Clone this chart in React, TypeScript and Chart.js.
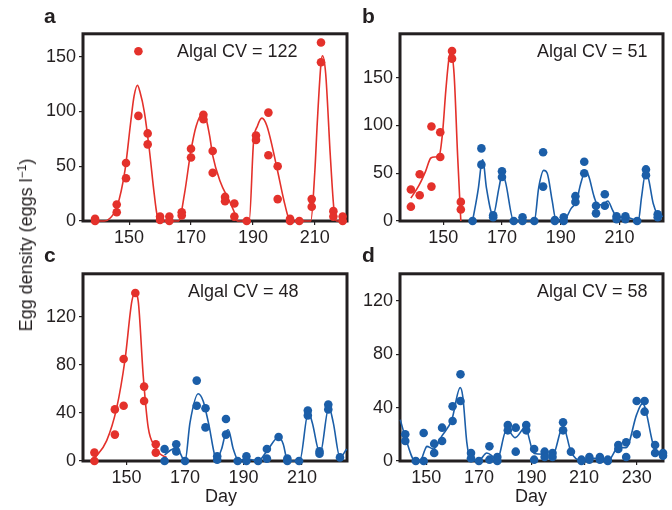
import React, { useEffect, useRef } from 'react';
import { Chart, registerables } from 'chart.js';

Chart.register(...registerables);

const FONT = '"Liberation Sans", Arial, Helvetica, sans-serif';
const INK = '#231f20';
const RED = '#e4312b';
const BLUE = '#1b5ea8';

// ---- Panel a (red clone only) ----
const aDays = [139, 146, 149, 153, 156, 160, 163, 167, 170, 174, 177, 181, 184, 188, 191, 195, 198, 202, 205, 209, 212, 216, 219];
const aRep1 = [2, 15, 53, 155, 80, 4, 4, 8, 66, 97, 64, 22, 16, 0, 78, 99, 50, 2, 0, 20, 163, 9, 4];
const aRep2 = [0, 8, 39, 96, 70, 1, 0, 5, 58, 93, 44, 18, 4, null, 74, 60, 20, 0, null, 13, 145, 4, 0];
const aFitDays = [139, 142, 144, 146, 148.7, 150.5, 151.6, 152.7, 153.5, 154.9, 156.5, 158.1, 159, 160, 166, 167.9, 169.9, 171.7, 173.5, 174.5, 176, 177, 179.3, 182.6, 184, 185, 188.8, 190.2, 191.5, 192.9, 194.5, 197.8, 200, 201.6, 202.5, 208.7, 210, 210.8, 212, 212.5, 213.5, 215, 216.2, 217, 220.4];
const aFitEggs = [0, 0, 3, 12, 47, 90, 114, 124, 118, 100, 66, 25, 6, 0, 0, 25, 63, 87, 97, 96, 78, 60, 37, 17, 8, 0, 0, 72, 87, 94, 87, 48, 19, 2, 0, 0, 45, 90, 144, 151, 135, 60, 10, 0, 0];

// ---- Panel b ----
const bRedDays = [139, 142, 146, 149, 153, 156];
const bRedRep1 = [33, 49, 99, 93, 178, 20];
const bRedRep2 = [15, 27, 36, 67, 170, 12];
const bRedFitDays = [139, 141.7, 144, 145.8, 147.2, 148.7, 149.8, 150.9, 152, 152.6, 153.7, 154.9, 156];
const bRedFitEggs = [24, 37, 52, 66, 67, 69, 93, 137, 171, 176, 154, 69, 0];
const bBlueDays = [160, 163, 167, 170, 174, 177, 181, 184, 188, 191, 195, 198, 202, 205, 209, 212, 216, 219, 223];
const bBlueRep1 = [0, 76, 6, 52, 0, 4, 0, 72, 1, 4, 26, 62, 16, 28, 5, 5, 0, 54, 7];
const bBlueRep2 = [null, 59, 4, 46, null, 0, null, 36, 0, 0, 20, 50, 8, 16, 2, 2, null, 48, 4];
const bBlueFitDays = [160, 162, 163, 163.5, 164.7, 167, 169, 170, 171.1, 174, 181, 182.5, 184.2, 185.4, 187.1, 188.3, 191.1, 193.5, 195.4, 196.7, 198.3, 199.4, 201.4, 202.6, 204.3, 206, 207.7, 209.3, 212.4, 216.4, 217.5, 218.8, 219.8, 221.5, 223.7, 224.8];
const bBlueFitEggs = [0, 35, 60, 64, 35, 6, 35, 48, 42, 0, 0, 35, 53, 50, 21, 2, 1, 13, 21, 38, 51, 48, 25, 17, 17, 21, 11, 4, 4, 0, 25, 49, 45, 18, 5, 5];

// ---- Panel c ----
const cRedDays = [139, 146, 149, 153, 156, 160];
const cRedRep1 = [7, 43, 85, 140, 62, 14];
const cRedRep2 = [0, 22, 46, null, 50, 7];
const cRedFitDays = [139, 143.2, 146.6, 149.5, 151.8, 152.9, 154, 155.7, 157.4, 159.7, 161.4, 163.7];
const cRedFitEggs = [2, 17, 44, 85, 133, 140, 133, 71, 28, 12, 6, 3];
const cBlueDays = [163, 167, 170, 174, 177, 181, 184, 188, 191, 195, 198, 202, 205, 209, 212, 216, 219, 223];
const cBlueRep1 = [10, 14, 0, 67, 44, 4, 35, 0, 4, 0, 10, 20, 2, 0, 42, 8, 47, 3];
const cBlueRep2 = [0, 8, null, 46, 28, 1, 22, null, 0, null, 2, null, 0, null, 38, 6, 43, null];
const cBlueFitDays = [163, 165, 167.1, 170, 171.7, 174.5, 176.2, 178, 180.8, 182.5, 183.9, 184.8, 186.5, 188.4, 190.7, 192.8, 195, 197.9, 202.1, 203.6, 205.1, 209.2, 212.2, 213.5, 216.2, 219.2, 220.7, 223, 225.3];
const cBlueFitEggs = [5, 9, 11, 0, 32, 56, 50, 32, 2, 10, 23.5, 26, 10, 0, 2, 1, 0, 8, 20, 14, 0, 0, 41, 32, 6, 45, 32, 3, 10];

// ---- Panel d (blue clone only) ----
const dDays = [142, 146, 149, 153, 156, 160, 163, 167, 170, 174, 177, 181, 184, 188, 191, 195, 198, 202, 205, 209, 212, 216, 219, 223, 226, 230, 233, 237, 240];
const dRep1 = [20, 0, 21, 13, 25, 41, 65, 6, 0, 11, 3, 27, 25, 27, 9, 7, 6, 29, 7, 1, 3, 3, 1, 12, 14, 45, 45, 12, 6];
const dRep2 = [15, null, 0, 6, 15, 30, 45, 2, null, 1, 0, 23, 7, 23, 1, 3, 3, 23, null, 0, 1, 1, 0, 9, 3, 20, 37, 6, 4];
const dFitDays = [140.1, 142, 145.8, 147.6, 149.6, 150.2, 152.7, 156, 159.7, 162.9, 163.9, 165.4, 166.7, 169.8, 173, 174.9, 176.8, 180.6, 183.8, 187.6, 191, 195, 198, 202, 205, 209, 212, 216, 219, 223, 226, 230, 232.2, 233, 237, 240];
const dFitEggs = [31, 18, 0, 0, 9, 11, 9, 19, 31, 55, 48, 14, 2, 0, 6, 4, 0, 24, 17.5, 25, 5.6, 5, 4, 26, 7, 0, 2, 2, 0, 10, 10, 35, 43, 41, 8, 5];

// Axis ticks
const ticksX = [150, 170, 190, 210];
const ticksXd = [150, 170, 190, 210, 230];
const ticksYab = [0, 50, 100, 150];
const ticksYcd = [0, 40, 80, 120];

type XY = { x: number; y: number };

function samples(days: number[], rep1: (number | null)[], rep2: (number | null)[]): XY[] {
  const out: XY[] = [];
  days.forEach((d, i) => {
    if (rep1[i] != null) out.push({ x: d, y: rep1[i] as number });
    if (rep2[i] != null) out.push({ x: d, y: rep2[i] as number });
  });
  return out;
}

function curve(days: number[], eggs: number[]): XY[] {
  return days.map((d, i) => ({ x: d, y: eggs[i] }));
}

function pointSet(data: XY[], color: string) {
  return {
    data,
    showLine: false,
    pointRadius: 4.3,
    pointBackgroundColor: color,
    pointBorderWidth: 0,
    borderColor: color,
    clip: false as any,
    order: 0,
  };
}

function fitSet(data: XY[], color: string) {
  return {
    data,
    showLine: true,
    borderColor: color,
    borderWidth: 1.6,
    pointRadius: 0,
    cubicInterpolationMode: 'monotone' as const,
    clip: false as any,
    order: 1,
  };
}

// Thick box around each plotting area, drawn beneath the data marks
const frameBox = {
  id: 'frameBox',
  beforeDatasetsDraw(chart: any) {
    const { ctx, chartArea } = chart;
    ctx.save();
    ctx.strokeStyle = INK;
    ctx.lineWidth = 3;
    ctx.strokeRect(chartArea.left, chartArea.top, chartArea.right - chartArea.left, chartArea.bottom - chartArea.top);
    ctx.restore();
  },
};

type Box = { left: number; top: number; width: number; height: number };
type Area = { left: number; top: number; right: number; bottom: number };

type PanelProps = {
  box: Box;
  area: Area;
  xMin: number;
  xMax: number;
  xTicks: number[];
  yMax: number;
  yTicks: number[];
  datasets: any[];
};

function Panel({ box, area, xMin, xMax, xTicks, yMax, yTicks, datasets }: PanelProps) {
  const ref = useRef<HTMLCanvasElement | null>(null);
  useEffect(() => {
    if (!ref.current) return;
    const yAxisWidth = area.left - box.left;
    const xAxisHeight = box.top + box.height - area.bottom;
    const tickFont = { family: FONT, size: 18 };
    const grid = { display: true, drawOnChartArea: false, drawTicks: true, tickLength: 4, color: INK, lineWidth: 1.2 };
    const chart = new Chart(ref.current, {
      type: 'scatter',
      data: { datasets },
      plugins: [frameBox],
      options: {
        animation: false,
        responsive: false,
        maintainAspectRatio: false,
        devicePixelRatio: 1,
        layout: {
          autoPadding: false,
          padding: { left: 0, bottom: 0, top: area.top - box.top, right: box.left + box.width - area.right },
        },
        plugins: { legend: { display: false }, tooltip: { enabled: false } },
        scales: {
          x: {
            type: 'linear',
            min: xMin,
            max: xMax,
            grid,
            border: { display: false },
            ticks: { color: INK, font: tickFont, padding: 2, maxRotation: 0, autoSkip: false },
            afterBuildTicks: (s: any) => {
              s.ticks = xTicks.map((v) => ({ value: v }));
            },
            afterFit: (s: any) => {
              s.height = xAxisHeight;
            },
          },
          y: {
            type: 'linear',
            min: 0,
            max: yMax,
            grid,
            border: { display: false },
            ticks: { color: INK, font: tickFont, padding: 3, autoSkip: false },
            afterBuildTicks: (s: any) => {
              s.ticks = yTicks.map((v) => ({ value: v }));
            },
            afterFit: (s: any) => {
              s.width = yAxisWidth;
            },
          },
        },
      } as any,
    });
    return () => chart.destroy();
  }, []);
  return (
    <canvas
      ref={ref}
      width={box.width}
      height={box.height}
      style={{ position: 'absolute', left: box.left, top: box.top, width: box.width, height: box.height }}
    />
  );
}

const textStyle: React.CSSProperties = {
  position: 'absolute',
  fontFamily: FONT,
  fontSize: 18,
  lineHeight: '20px',
  color: INK,
  whiteSpace: 'nowrap',
};

const letterStyle: React.CSSProperties = {
  ...textStyle,
  fontSize: 21,
  lineHeight: '24px',
  fontWeight: 'bold',
};

export default function App() {
  return (
    <div style={{ position: 'fixed', left: 0, top: 0, width: 672, height: 510, background: '#fff', overflow: 'hidden' }}>
      <Panel
        box={{ left: 30, top: 20, width: 330, height: 235 }}
        area={{ left: 83, top: 29, right: 347, bottom: 221 }}
        xMin={135.1}
        xMax={220.4}
        xTicks={ticksX}
        yMax={171}
        yTicks={ticksYab}
        datasets={[fitSet(curve(aFitDays, aFitEggs), RED), pointSet(samples(aDays, aRep1, aRep2), RED)]}
      />
      <Panel
        box={{ left: 350, top: 20, width: 322, height: 235 }}
        area={{ left: 400, top: 29, right: 663, bottom: 221 }}
        xMin={135.3}
        xMax={224.8}
        xTicks={ticksX}
        yMax={196}
        yTicks={ticksYab}
        datasets={[
          fitSet(curve(bRedFitDays, bRedFitEggs), RED),
          fitSet(curve(bBlueFitDays, bBlueFitEggs), BLUE),
          pointSet(samples(bRedDays, bRedRep1, bRedRep2), RED),
          pointSet(samples(bBlueDays, bBlueRep1, bBlueRep2), BLUE),
        ]}
      />
      <Panel
        box={{ left: 30, top: 260, width: 330, height: 250 }}
        area={{ left: 83, top: 269, right: 347, bottom: 461 }}
        xMin={135.1}
        xMax={225.4}
        xTicks={ticksX}
        yMax={156}
        yTicks={ticksYcd}
        datasets={[
          fitSet(curve(cRedFitDays, cRedFitEggs), RED),
          fitSet(curve(cBlueFitDays, cBlueFitEggs), BLUE),
          pointSet(samples(cRedDays, cRedRep1, cRedRep2), RED),
          pointSet(samples(cBlueDays, cBlueRep1, cBlueRep2), BLUE),
        ]}
      />
      <Panel
        box={{ left: 350, top: 260, width: 322, height: 250 }}
        area={{ left: 400, top: 269, right: 663, bottom: 461 }}
        xMin={140}
        xMax={240}
        xTicks={ticksXd}
        yMax={140.4}
        yTicks={ticksYcd}
        datasets={[fitSet(curve(dFitDays, dFitEggs), BLUE), pointSet(samples(dDays, dRep1, dRep2), BLUE)]}
      />

      <div style={{ ...letterStyle, left: 44, top: 4 }}>a</div>
      <div style={{ ...letterStyle, left: 362, top: 4 }}>b</div>
      <div style={{ ...letterStyle, left: 44, top: 243 }}>c</div>
      <div style={{ ...letterStyle, left: 362, top: 243 }}>d</div>

      <div style={{ ...textStyle, left: 177, top: 41 }}>Algal CV = 122</div>
      <div style={{ ...textStyle, left: 537, top: 41 }}>Algal CV = 51</div>
      <div style={{ ...textStyle, left: 188, top: 281 }}>Algal CV = 48</div>
      <div style={{ ...textStyle, left: 537, top: 281 }}>Algal CV = 58</div>

      <div style={{ ...textStyle, left: 221, top: 486, transform: 'translateX(-50%)' }}>Day</div>
      <div style={{ ...textStyle, left: 531, top: 486, transform: 'translateX(-50%)' }}>Day</div>

      <div
        style={{
          ...textStyle,
          left: 26,
          top: 245,
          transform: 'translate(-50%, -50%) rotate(-90deg)',
        }}
      >
        Egg density (eggs l<sup style={{ fontSize: 12, lineHeight: 0, verticalAlign: '0.5em' }}>−1</sup>)
      </div>
    </div>
  );
}
